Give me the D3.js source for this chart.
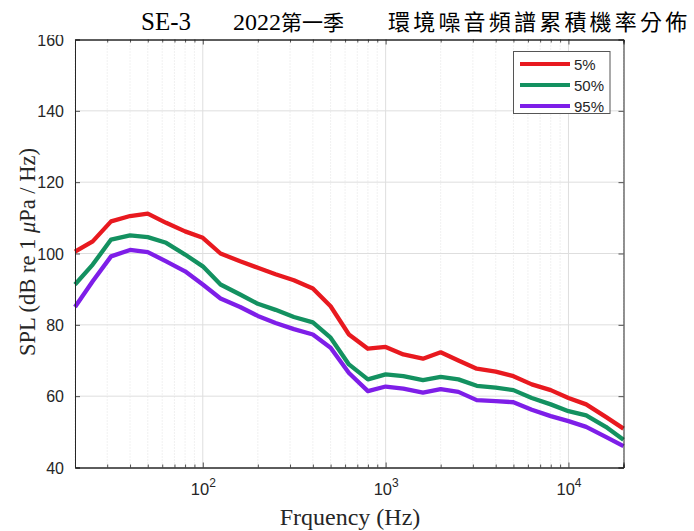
<!DOCTYPE html>
<html>
<head>
<meta charset="utf-8">
<script src="https://cdn.jsdelivr.net/npm/d3@7/dist/d3.min.js"></script>
<style>
  body { margin: 0; background: #fff; }
  svg { display: block; }
</style>
</head>
<body>
<div id="chart"></div>
<script>
// 1/3 octave band centre frequencies (Hz)
const freqs = [20, 25, 31.5, 40, 50, 63, 80, 100, 125, 160, 200, 250, 315, 400, 500, 630,
               800, 1000, 1250, 1600, 2000, 2500, 3150, 4000, 5000, 6300, 8000, 10000, 12500, 16000, 20000]

// percentile levels
const p5  = [100.5, 103.4, 109.0, 110.5, 111.2, 108.6, 106.2, 104.4, 100.0, 97.8, 96.0, 94.2, 92.5, 90.2, 85.2, 77.3,
             73.3, 73.8, 71.7, 70.5, 72.3, 70.0, 67.7, 66.9, 65.6, 63.3, 61.7, 59.5, 57.7, 54.2, 50.9]
const p50 = [91.3, 96.9, 103.9, 105.1, 104.6, 103.0, 99.7, 96.4, 91.3, 88.5, 85.9, 84.2, 82.2, 80.7, 76.4, 68.9,
             64.7, 66.1, 65.6, 64.5, 65.4, 64.7, 62.9, 62.4, 61.7, 59.5, 57.7, 55.8, 54.6, 51.4, 47.8]
const p95 = [85.0, 92.2, 99.2, 101.0, 100.4, 97.8, 95.0, 91.3, 87.4, 85.0, 82.5, 80.5, 78.8, 77.3, 73.6, 66.5,
             61.4, 62.7, 62.1, 61.0, 62.0, 61.2, 58.9, 58.6, 58.3, 56.2, 54.4, 53.0, 51.4, 48.6, 46.0]

const seriesNames = ["5%", "50%", "95%"]
const seriesColors = ["#e8191f", "#139160", "#7e1ee8"]
const yTicks = [40, 60, 80, 100, 120, 140, 160]
const xMajor = [100, 1000, 10000]

const width = 694
const height = 531
const mLeft = 75, mRight = 623.5, mTop = 39.5, mBottom = 467.5

const svg = d3.select("#chart")
              .append("svg")
              .attr("width", width)
              .attr("height", height)

const xScale = d3.scaleLog()
                 .domain([20, 20000])
                 .range([mLeft, mRight])
const yScale = d3.scaleLinear()
                 .domain([40, 160])
                 .range([mBottom, mTop])

// minor positions 20..90, 200..900, ...
let xMinor = []
for (let dec = 10; dec <= 10000; dec *= 10) {
  for (let m = 2; m <= 9; m++) {
    let v = dec * m
    if (v >= 20 && v <= 20000) xMinor.push(v)
  }
}

const axisColor = "#262626"

// grid
svg.append("g")
   .selectAll("line")
   .data(xMinor)
   .enter().append("line")
   .attr("x1", d => xScale(d)).attr("x2", d => xScale(d))
   .attr("y1", mTop).attr("y2", mBottom)
   .attr("stroke", "#dcdcdc")
   .attr("stroke-width", 0.8)
   .attr("stroke-dasharray", "1,2")

svg.append("g")
   .selectAll("line")
   .data(xMajor)
   .enter().append("line")
   .attr("x1", d => xScale(d)).attr("x2", d => xScale(d))
   .attr("y1", mTop).attr("y2", mBottom)
   .attr("stroke", "#dedede")
   .attr("stroke-width", 1)

svg.append("g")
   .selectAll("line")
   .data(yTicks.slice(1, -1))
   .enter().append("line")
   .attr("x1", mLeft).attr("x2", mRight)
   .attr("y1", d => yScale(d)).attr("y2", d => yScale(d))
   .attr("stroke", "#dedede")
   .attr("stroke-width", 1)

// curves
const line = d3.line()
               .x((d, i) => xScale(freqs[i]))
               .y(d => yScale(d))

const allSeries = [p5, p50, p95]
svg.append("g")
   .selectAll("path")
   .data(allSeries)
   .enter().append("path")
   .attr("d", d => line(d))
   .attr("fill", "none")
   .attr("stroke", (d, i) => seriesColors[i])
   .attr("stroke-width", 4.3)
   .attr("stroke-linejoin", "round")

// axes: bottom/left with labels, top/right as box with inner ticks
const tickFmt = () => ""
svg.append("g")
   .attr("transform", "translate(0," + mBottom + ")")
   .call(d3.axisBottom(xScale).tickValues(xMinor).tickSize(-3).tickFormat(tickFmt))
svg.append("g")
   .attr("transform", "translate(0," + mBottom + ")")
   .call(d3.axisBottom(xScale).tickValues(xMajor).tickSize(-5).tickFormat(tickFmt))
svg.append("g")
   .attr("transform", "translate(0," + mTop + ")")
   .call(d3.axisTop(xScale).tickValues(xMinor).tickSize(-3).tickFormat(tickFmt))
svg.append("g")
   .attr("transform", "translate(0," + mTop + ")")
   .call(d3.axisTop(xScale).tickValues(xMajor).tickSize(-5).tickFormat(tickFmt))
svg.append("g")
   .attr("transform", "translate(" + mLeft + ",0)")
   .call(d3.axisLeft(yScale).tickValues(yTicks).tickSize(-5).tickFormat(tickFmt))
svg.append("g")
   .attr("transform", "translate(" + mRight + ",0)")
   .call(d3.axisRight(yScale).tickValues(yTicks).tickSize(-5).tickFormat(tickFmt))

svg.selectAll(".domain").attr("stroke", axisColor).attr("stroke-width", 1)
svg.selectAll(".tick line").attr("stroke", axisColor).attr("stroke-width", 0.8)

// y tick labels
svg.append("g")
   .selectAll("text")
   .data(yTicks)
   .enter().append("text")
   .attr("x", mLeft - 11)
   .attr("y", d => yScale(d) + 6)
   .attr("text-anchor", "end")
   .style("font-family", "Liberation Sans, Arial, sans-serif")
   .style("font-size", "16px")
   .attr("fill", axisColor)
   .text(d => d)

// x tick labels 10^n
const xl = svg.append("g")
              .selectAll("text")
              .data(xMajor)
              .enter().append("text")
              .attr("x", d => xScale(d) - 12)
              .attr("y", 495)
              .style("font-family", "Liberation Sans, Arial, sans-serif")
              .style("font-size", "16.5px")
              .attr("fill", axisColor)
xl.append("tspan").text("10")
xl.append("tspan")
  .attr("dy", -8)
  .style("font-size", "12px")
  .text(d => Math.round(Math.log10(d)))

// title area covers the top of the "160" label as in the source
svg.append("rect")
   .attr("x", 0).attr("y", 0)
   .attr("width", width).attr("height", 35)
   .attr("fill", "#fff")

const titleFont = "Liberation Serif, Noto Sans CJK TC, serif"
svg.append("text")
   .attr("x", 141).attr("y", 30)
   .style("font-family", titleFont)
   .style("font-size", "25px")
   .text("SE-3")
const t2 = svg.append("text")
   .attr("x", 233).attr("y", 30)
   .style("font-family", titleFont)
t2.append("tspan").style("font-size", "24px").text("2022")
t2.append("tspan").style("font-size", "21px").text("第一季")
svg.append("text")
   .attr("x", 388).attr("y", 30)
   .style("font-family", titleFont)
   .style("font-size", "22px")
   .style("letter-spacing", "3.2px")
   .text("環境噪音頻譜累積機率分佈")

// axis labels
svg.append("text")
   .attr("x", 350).attr("y", 525)
   .attr("text-anchor", "middle")
   .style("font-family", "Liberation Serif, Times New Roman, serif")
   .style("font-size", "24px")
   .attr("fill", axisColor)
   .text("Frquency (Hz)")

const yl = svg.append("text")
              .attr("transform", "translate(35,252) rotate(-90)")
              .attr("text-anchor", "middle")
              .style("font-family", "Liberation Serif, Times New Roman, serif")
              .style("font-size", "22.5px")
              .attr("fill", axisColor)
yl.append("tspan").text("SPL (dB re 1 ")
yl.append("tspan").style("font-style", "italic").text("μ")
yl.append("tspan").text("Pa / Hz)")

// legend
svg.append("rect")
   .attr("x", 513.5).attr("y", 51.5)
   .attr("width", 96.5).attr("height", 62)
   .attr("fill", "#fff")
   .attr("stroke", "#555")
   .attr("stroke-width", 1)
const lg = svg.selectAll(".legend")
              .data(seriesNames)
              .enter().append("g")
              .attr("class", "legend")
              .attr("transform", (d, i) => "translate(0," + (64 + i * 21) + ")")
lg.append("line")
  .attr("x1", 520).attr("x2", 570)
  .attr("y1", 0).attr("y2", 0)
  .attr("stroke", (d, i) => seriesColors[i])
  .attr("stroke-width", 4)
lg.append("text")
  .attr("x", 574).attr("y", 5.5)
  .style("font-family", "Liberation Sans, Arial, sans-serif")
  .style("font-size", "15px")
  .attr("fill", axisColor)
  .text(d => d)
</script>
</body>
</html>
